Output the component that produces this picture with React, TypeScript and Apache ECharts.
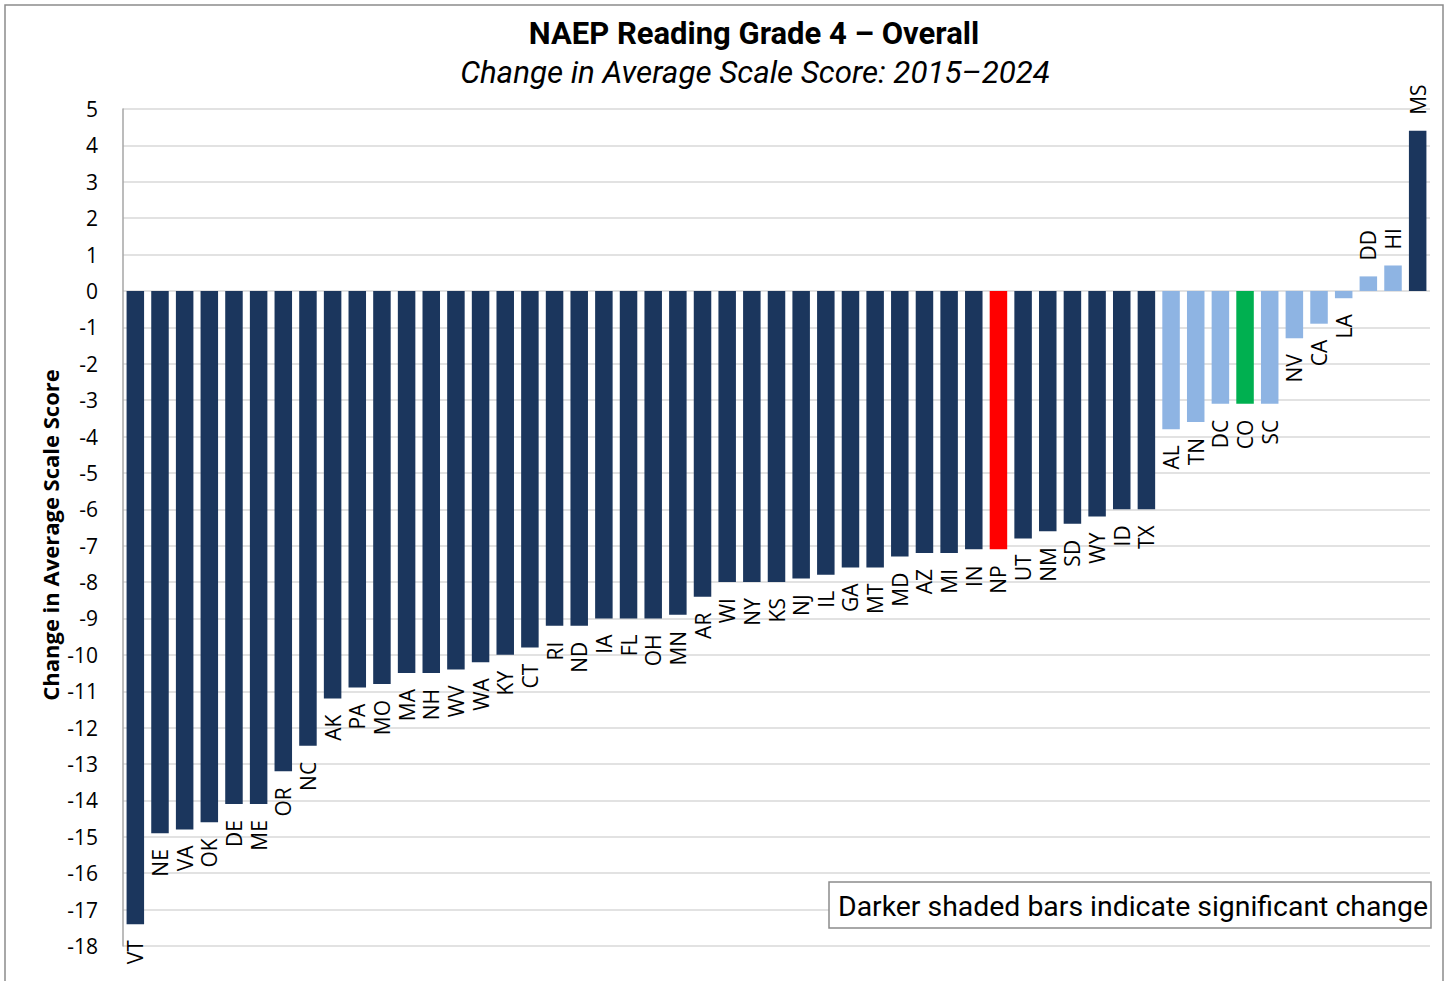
import React, { useEffect, useRef } from "react";
import * as echarts from "echarts";

const states = [
  "VT", "NE", "VA", "OK", "DE", "ME", "OR", "NC", "AK", "PA", "MO", "MA", "NH", "WV", "WA", "KY", "CT",
  "RI", "ND", "IA", "FL", "OH", "MN", "AR", "WI", "NY", "KS", "NJ", "IL", "GA", "MT", "MD", "AZ", "MI",
  "IN", "NP", "UT", "NM", "SD", "WY", "ID", "TX", "AL", "TN", "DC", "CO", "SC", "NV", "CA", "LA", "DD",
  "HI", "MS",
];

const changes = [
  -17.4, -14.9, -14.8, -14.6, -14.1, -14.1, -13.2, -12.5, -11.2, -10.9, -10.8, -10.5, -10.5, -10.4, -10.2,
  -10.0, -9.8, -9.2, -9.2, -9.0, -9.0, -9.0, -8.9, -8.4, -8.0, -8.0, -8.0, -7.9, -7.8, -7.6, -7.6, -7.3,
  -7.2, -7.2, -7.1, -7.1, -6.8, -6.6, -6.4, -6.2, -6.0, -6.0, -3.8, -3.6, -3.1, -3.1, -3.1, -1.3, -0.9,
  -0.2, 0.4, 0.7, 4.4,
];

const significant = [
  true, true, true, true, true, true, true, true, true, true, true, true, true, true, true, true, true,
  true, true, true, true, true, true, true, true, true, true, true, true, true, true, true, true, true,
  true, true, true, true, true, true, true, true, false, false, false, false, false, false, false, false, false,
  false, true,
];

const yTicks = { min: -18, max: 5, interval: 1 };

const TITLE = "NAEP Reading Grade 4 – Overall";
const SUBTITLE = "Change in Average Scale Score: 2015–2024";
const Y_NAME = "Change in Average Scale Score";
const NOTE = "Darker shaded bars indicate significant change";

const DARK = "#1b365d";
const LIGHT = "#8eb4e3";
const NATION = "#ff0000";
const HOME = "#00b050";

function colorFor(i: number): string {
  if (states[i] === "NP") return NATION;
  if (states[i] === "CO") return HOME;
  return significant[i] ? DARK : LIGHT;
}

export default function App() {
  const ref = useRef<HTMLDivElement>(null);
  useEffect(() => {
    if (!ref.current) return;
    const chart = echarts.init(ref.current, null, { renderer: "svg" });
    const data = changes.map((v, i) => ({
      value: v,
      itemStyle: { color: colorFor(i) },
      label: {
        show: true,
        position: v < 0 ? "bottom" : "top",
        rotate: 90,
        align: v < 0 ? "right" : "left",
        verticalAlign: "middle",
        distance: 16,
        formatter: states[i],
        fontFamily: "Open Sans",
        fontSize: 21,
        color: "#000",
      },
    }));
    chart.setOption({
      animation: false,
      grid: { left: 123, right: 19, top: 109, bottom: 35, containLabel: false },
      xAxis: {
        type: "category",
        data: states,
        boundaryGap: true,
        axisLine: { show: false },
        axisTick: { show: false },
        axisLabel: { show: false },
        splitLine: { show: false },
      },
      yAxis: {
        type: "value",
        min: yTicks.min,
        max: yTicks.max,
        interval: yTicks.interval,
        axisLine: { show: true, lineStyle: { color: "#a6a6a6", width: 1.5 } },
        axisTick: { show: false },
        axisLabel: { fontFamily: "Open Sans", fontSize: 21, color: "#000", margin: 25 },
        splitLine: { show: true, lineStyle: { color: "#d9d9d9", width: 1.5 } },
      },
      series: [
        {
          type: "bar",
          data,
          barWidth: 17.5,
          label: { show: true },
        },
      ],
      graphic: [
        {
          type: "rect",
          shape: { x: 5, y: 5, width: 1438, height: 990 },
          style: { fill: "none", stroke: "#8c8c8c", lineWidth: 1.5 },
          silent: true,
        },
        {
          type: "text",
          x: 754,
          y: 33,
          style: {
            text: TITLE,
            align: "center",
            verticalAlign: "middle",
            fontFamily: "Roboto",
            fontWeight: "bold",
            fontSize: 31,
            fill: "#000",
          },
        },
        {
          type: "text",
          x: 755,
          y: 72,
          style: {
            text: SUBTITLE,
            align: "center",
            verticalAlign: "middle",
            fontFamily: "Roboto",
            fontStyle: "italic",
            fontSize: 31.3,
            fill: "#000",
          },
        },
        {
          type: "text",
          x: 50,
          y: 535,
          rotation: Math.PI / 2,
          style: {
            text: Y_NAME,
            align: "center",
            verticalAlign: "middle",
            fontFamily: "Open Sans",
            fontWeight: "bold",
            fontSize: 22,
            fill: "#000",
          },
        },
        {
          type: "rect",
          z: 100,
          shape: { x: 829, y: 882, width: 602, height: 46 },
          style: { fill: "#fff", stroke: "#8c8c8c", lineWidth: 1.5 },
        },
        {
          type: "text",
          z: 101,
          x: 1133,
          y: 906,
          style: {
            text: NOTE,
            align: "center",
            verticalAlign: "middle",
            fontFamily: "Roboto",
            fontSize: 28.4,
            fill: "#000",
          },
        },
      ],
    });
    return () => chart.dispose();
  }, []);
  return (
    <div
      ref={ref}
      style={{ position: "fixed", left: 0, top: 0, width: 1449, height: 981, background: "#fff" }}
    />
  );
}
